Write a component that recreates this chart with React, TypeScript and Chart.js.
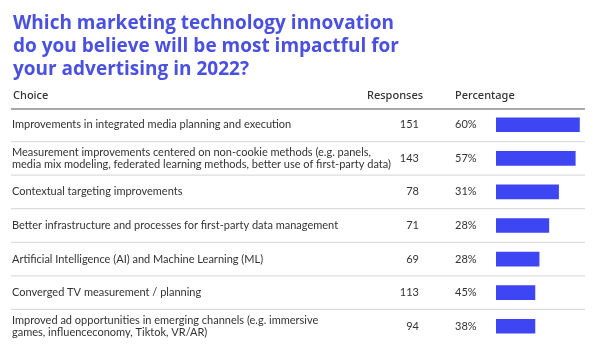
import React, { useEffect, useRef } from "react";
import { Chart, registerables } from "chart.js";

Chart.register(...registerables);

const titleLines = [
  "Which marketing technology innovation",
  "do you believe will be most impactful for",
  "your advertising in 2022?",
];
const headers = ["Choice", "Responses", "Percentage"];
const choices: string[][] = [
  ["Improvements in integrated media planning and execution"],
  [
    "Measurement improvements centered on non-cookie methods (e.g. panels,",
    "media mix modeling, federated learning methods, better use of first-party data)",
  ],
  ["Contextual targeting improvements"],
  ["Better infrastructure and processes for first-party data management"],
  ["Artificial Intelligence (AI) and Machine Learning (ML)"],
  ["Converged TV measurement / planning"],
  [
    "Improved ad opportunities in emerging channels (e.g. immersive",
    "games, influenceconomy, Tiktok, VR/AR)",
  ],
];
const responses = [151, 143, 78, 71, 69, 113, 94];
const percentages = [60, 57, 31, 28, 28, 45, 38];
// bar lengths as drawn in the picture (sorted, independent of the rows)
const barValues = [60, 57, 45, 38, 31, 28, 28];

const TITLE_COLOR = "#4a50e0";
const BAR_COLOR = "#3e45f2";
const TEXT_COLOR = "#333333";
const BODY_FONT = "Lato, sans-serif";
const HEADER_FONT = "'Noto Sans', sans-serif";
const TITLE_FONT = "'Open Sans', sans-serif";

const tablePlugin = {
  id: "tableText",
  afterDraw(chart: any) {
    const ctx = chart.ctx as CanvasRenderingContext2D;
    const y = chart.scales.y;
    const area = chart.chartArea;
    ctx.save();
    // title
    ctx.fillStyle = TITLE_COLOR;
    ctx.font = `bold 19px ${TITLE_FONT}`;
    ctx.textAlign = "left";
    ctx.textBaseline = "alphabetic";
    titleLines.forEach((t, i) => ctx.fillText(t, 13, 29 + i * 23));

    // header
    ctx.fillStyle = TEXT_COLOR;
    ctx.font = `500 11px ${HEADER_FONT}`;
    ctx.textBaseline = "middle";
    ctx.fillText(headers[0], 13, 96);
    ctx.fillText(headers[1], 367, 96);
    ctx.fillText(headers[2], 455, 96);

    const lineLeft = 11;
    const lineRight = 585;
    // header line
    ctx.strokeStyle = "#555555";
    ctx.lineWidth = 1.2;
    ctx.beginPath();
    ctx.moveTo(lineLeft, area.top + 1);
    ctx.lineTo(lineRight, area.top + 1);
    ctx.stroke();

    // separators
    ctx.strokeStyle = "#dddddd";
    ctx.lineWidth = 1.2;
    const n = choices.length;
    for (let i = 0; i < n - 1; i++) {
      const yy = (y.getPixelForValue(i) + y.getPixelForValue(i + 1)) / 2;
      ctx.beginPath();
      ctx.moveTo(lineLeft, yy);
      ctx.lineTo(lineRight, yy);
      ctx.stroke();
    }

    // rows
    ctx.fillStyle = TEXT_COLOR;
    ctx.font = `11px ${BODY_FONT}`;
    for (let i = 0; i < n; i++) {
      const cy = y.getPixelForValue(i);
      const lines = choices[i];
      const lh = 12.5;
      const start = cy - ((lines.length - 1) * lh) / 2;
      ctx.textAlign = "left";
      lines.forEach((l, j) => ctx.fillText(l, 12, start + j * lh));
      ctx.textAlign = "right";
      ctx.fillText(String(responses[i]), 419, cy);
      ctx.textAlign = "left";
      ctx.fillText(percentages[i] + "%", 455, cy);
    }
    ctx.restore();
  },
};

export default function App() {
  const ref = useRef<HTMLCanvasElement | null>(null);
  useEffect(() => {
    if (!ref.current) return;
    const chart = new Chart(ref.current, {
      type: "bar",
      data: {
        labels: choices.map((c) => c.join(" ")),
        datasets: [
          {
            data: barValues,
            backgroundColor: BAR_COLOR,
            barThickness: 14,
            borderWidth: 0,
          },
        ],
      },
      options: {
        indexAxis: "y",
        animation: false,
        responsive: false,
        maintainAspectRatio: false,
        layout: { padding: { left: 496, right: 15, top: 108, bottom: 12 } },
        plugins: {
          legend: { display: false },
          tooltip: { enabled: false },
          title: { display: false },
        },
        scales: {
          x: { display: false, min: 0, max: 64 },
          y: { display: false },
        },
      },
      plugins: [tablePlugin],
    });
    return () => chart.destroy();
  }, []);
  return (
    <div
      style={{
        position: "fixed",
        left: 0,
        top: 0,
        width: 600,
        height: 355,
        background: "#ffffff",
      }}
    >
      <canvas ref={ref} width={600} height={355} style={{ width: 600, height: 355 }} />
    </div>
  );
}
